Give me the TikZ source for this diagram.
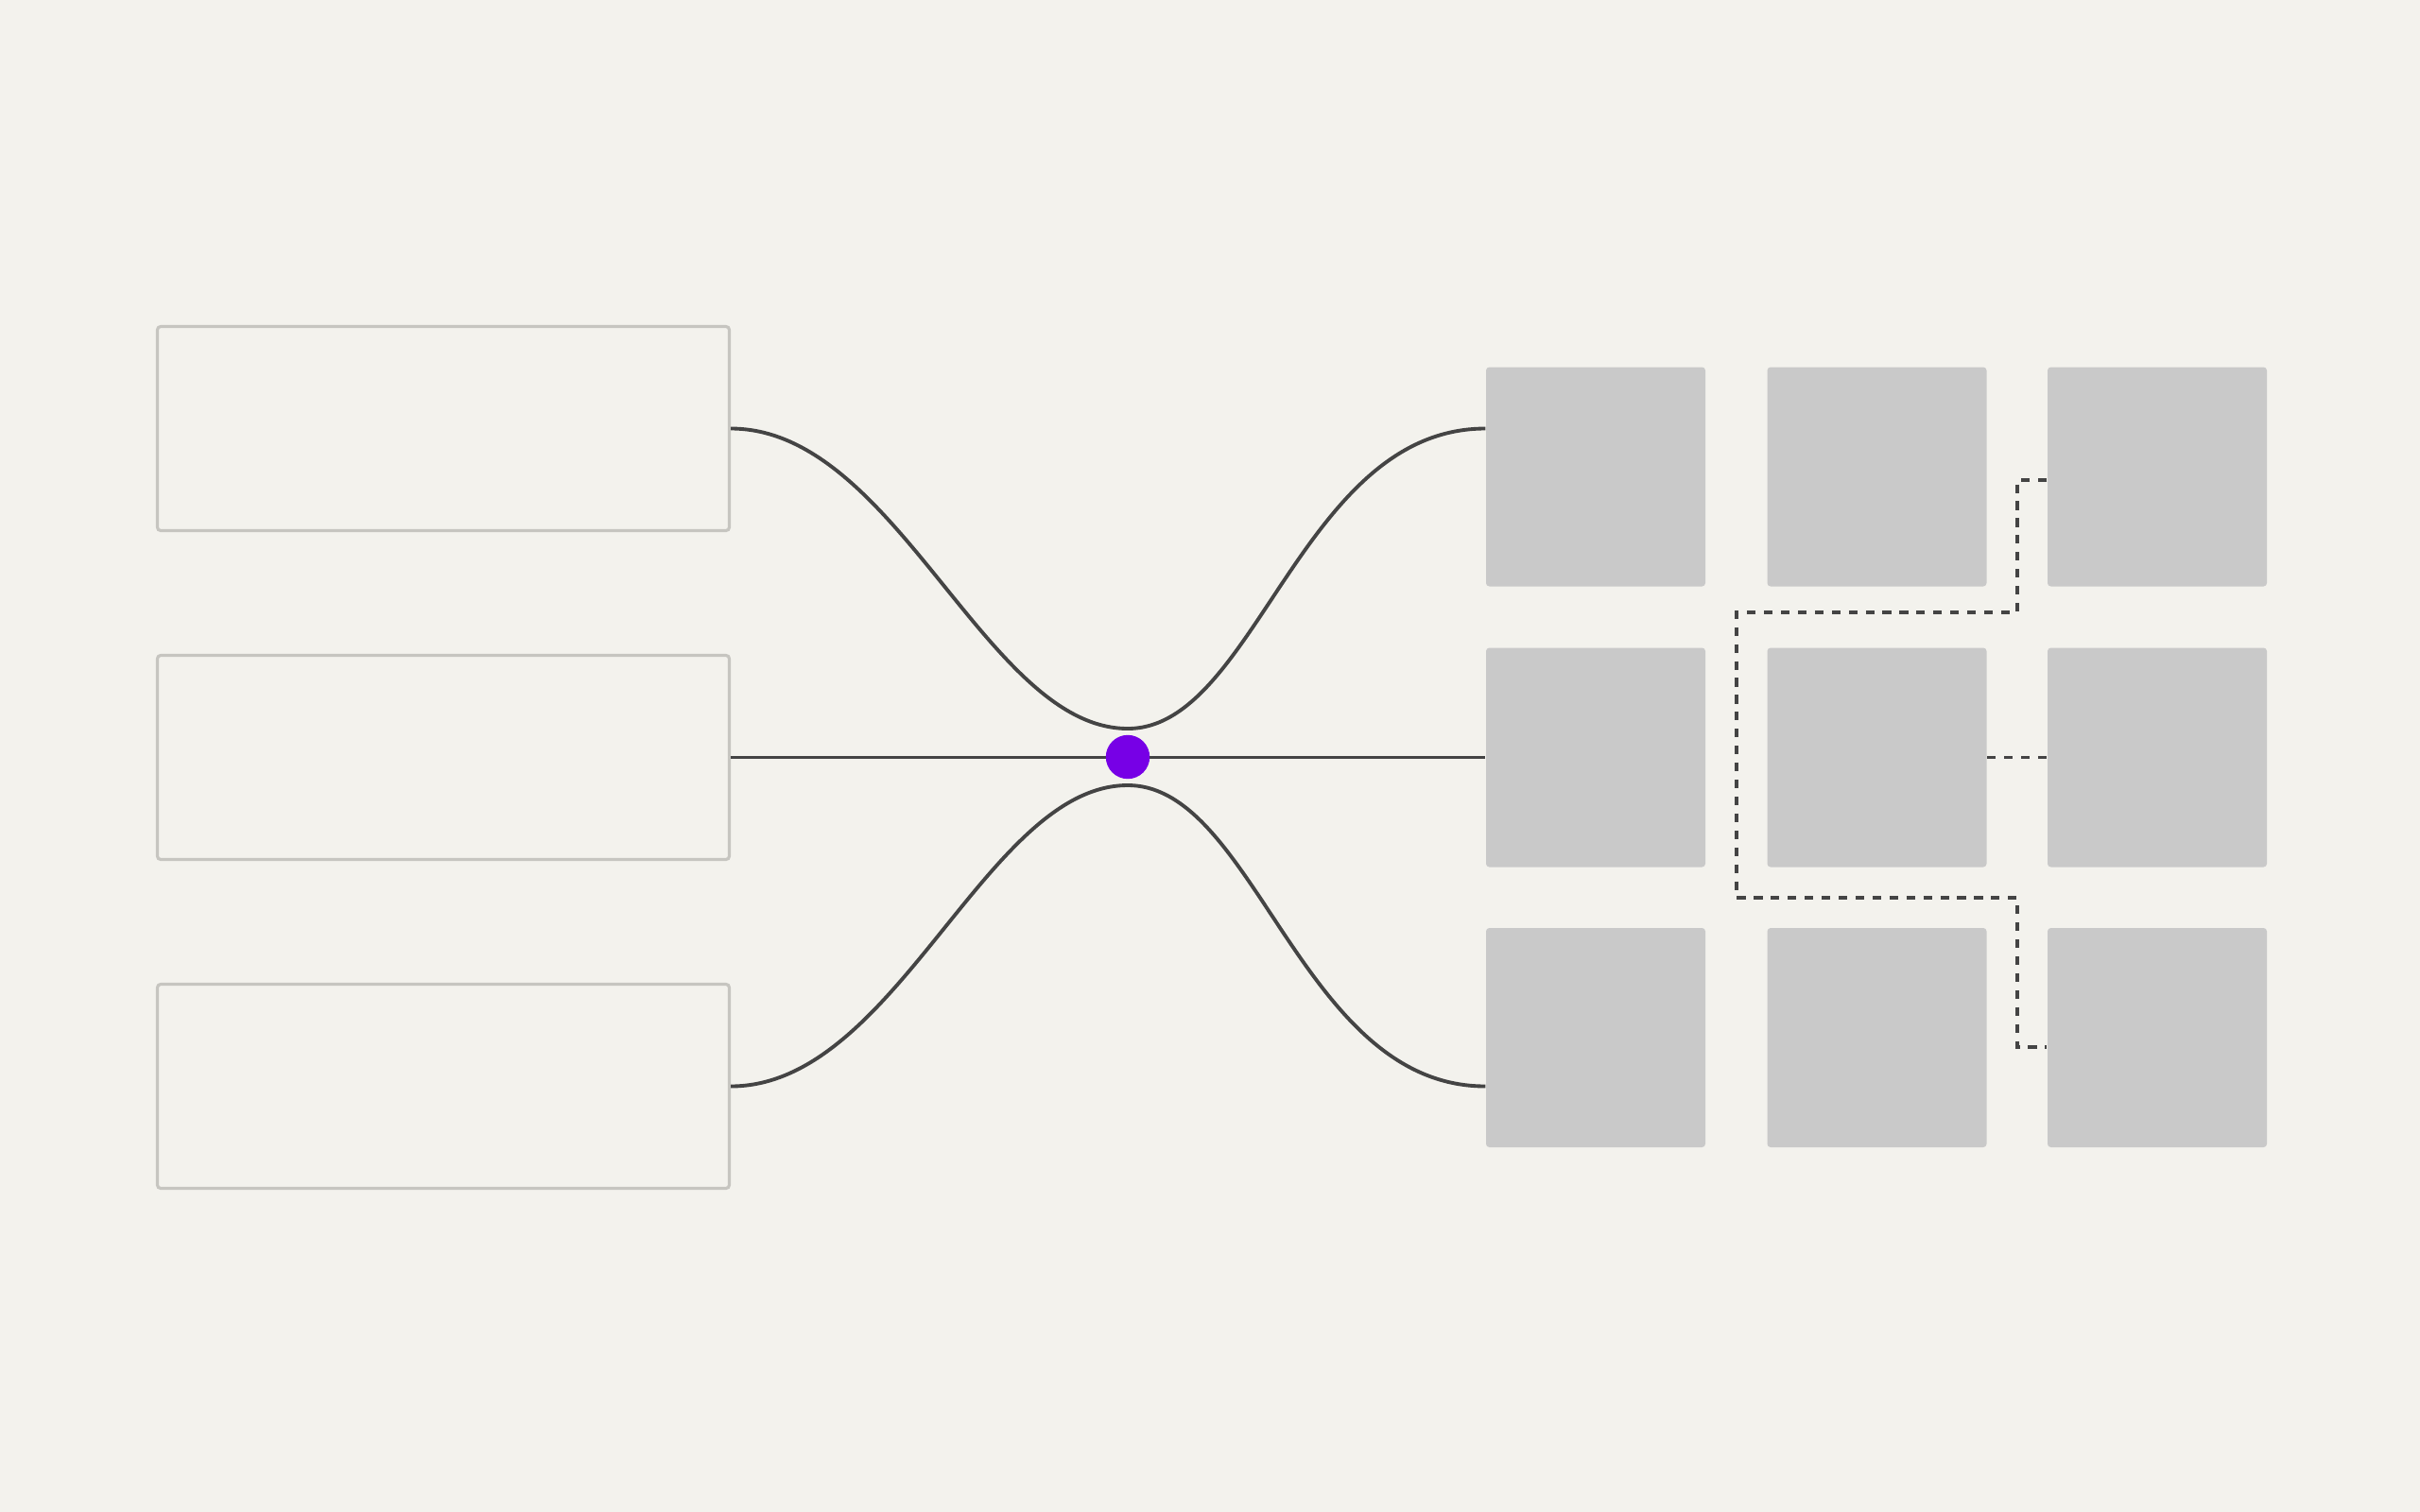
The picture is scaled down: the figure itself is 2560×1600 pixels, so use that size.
\documentclass[tikz,border=0pt]{standalone}
\definecolor{paper}{HTML}{F3F2ED}
\definecolor{boxline}{HTML}{C6C5C0}
\definecolor{cellgray}{HTML}{C9C9C9}
\definecolor{wire}{HTML}{444444}
\definecolor{hubpurple}{HTML}{7700E6}
\begin{document}
\begin{tikzpicture}[x=0.1mm, y=-0.1mm,
  leftbox/.style={draw=boxline, line width=0.9pt, rounded corners=1pt, inner sep=0, minimum width=60.5mm, minimum height=21.6mm},
  cell/.style={fill=cellgray, rounded corners=1pt, inner sep=0, minimum size=23.2mm},
  link/.style={draw=wire, line width=1.1pt},
  dashlink/.style={draw=wire, line width=1pt, dash pattern=on 2.6pt off 2.5pt},
  hub/.style={circle, fill=hubpurple, inner sep=0, minimum size=13.2pt}]

\fill[paper] (0,0) rectangle (2560,1600);

\node[leftbox] (lb1) at (469,453.5) {};
\node[leftbox] (lb2) at (469,801.5) {};
\node[leftbox] (lb3) at (469,1149.5) {};

\node[cell] (sq11) at (1688,504.5) {};
\node[cell] (sq12) at (1985.5,504.5) {};
\node[cell] (sq13) at (2282,504.5) {};
\node[cell] (sq21) at (1688,801.5) {};
\node[cell] (sq22) at (1985.5,801.5) {};
\node[cell] (sq23) at (2282,801.5) {};
\node[cell] (sq31) at (1688,1098) {};
\node[cell] (sq32) at (1985.5,1098) {};
\node[cell] (sq33) at (2282,1098) {};

\coordinate (pinchtop) at (1193,771);
\coordinate (pinchbot) at (1193,831);
\coordinate (turnA) at (2134,648);
\coordinate (turnB) at (1837,950);
\coordinate (turnC) at (2134,1108);

\draw[link] (lb1.east) .. controls +(175,0) and +(-150,0) .. (pinchtop)
  .. controls +(135,0) and +(-195,0) .. (lb1.east -| sq11.west);
\draw[link] (lb3.east) .. controls +(175,0) and +(-150,0) .. (pinchbot)
  .. controls +(135,0) and +(-195,0) .. (lb3.east -| sq31.west);
\draw[link] (lb2.east) -- (sq21.west);

\draw[dashlink] ([yshift=-0.35mm]sq13.west) -| (turnA) -| (turnB) -| (turnC) -- (turnC -| sq33.west);
\draw[dashlink] (sq22.east) -- (sq23.west);

\node[hub] (dot) at (1193,801) {};
\end{tikzpicture}
\end{document}
